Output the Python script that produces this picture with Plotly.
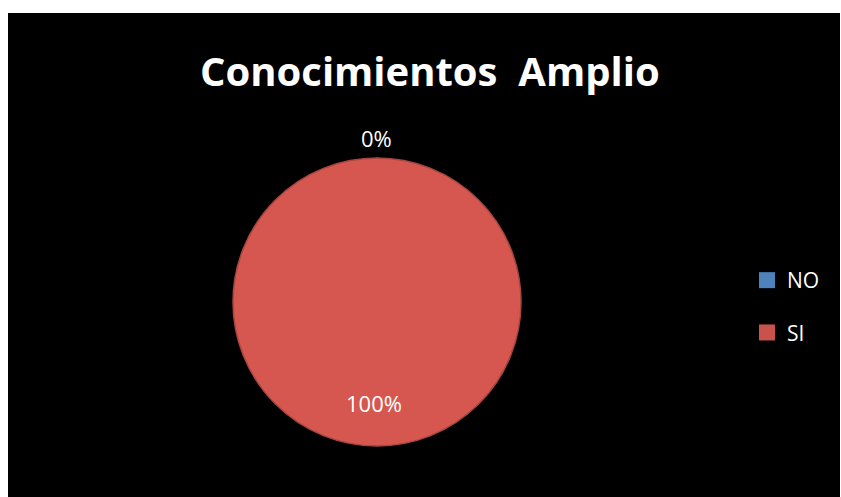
import plotly.graph_objects as go

categories = ["NO", "SI"]
values = [0, 100]
colors = ["#4F81BD", "#D6574F"]
legend_colors = ["#4F81BD", "#C9534C"]
title_text = "Conocimientos  Amplio"

W, H = 841, 497

def px(x):
    return x / W

def py(y):
    return 1 - y / H

total = sum(values)
pct = [f"{v / total:.0%}" for v in values]

fig = go.Figure()

fig.add_trace(go.Pie(
    labels=categories,
    values=values,
    marker=dict(colors=colors, line=dict(color="#A8463F", width=1.5)),
    textinfo="none",
    sort=False,
    direction="clockwise",
    showlegend=False,
    hoverinfo="label+percent",
    domain=dict(x=[px(233), px(521)], y=[py(446), py(158)]),
))

for cat, col in zip(categories, legend_colors):
    fig.add_trace(go.Scatter(
        x=[None], y=[None], mode="markers", name=cat,
        legendgroup=cat,
        marker=dict(symbol="square", size=16, color=col, line=dict(width=0)),
    ))

label_pos = {"NO": (376, 138), "SI": (374, 403)}
for cat, p in zip(categories, pct):
    x, y = label_pos[cat]
    fig.add_annotation(
        x=px(x), y=py(y), xref="paper", yref="paper",
        text=p, showarrow=False,
        font=dict(family="Open Sans", size=22, color="white"),
        xanchor="center", yanchor="middle",
    )

fig.add_annotation(
    x=px(430), y=py(71), xref="paper", yref="paper",
    text=f"<b>{title_text}</b>", showarrow=False,
    font=dict(family="Open Sans", size=40, color="white"),
    xanchor="center", yanchor="middle",
)

fig.add_shape(
    type="rect", xref="paper", yref="paper",
    x0=px(8), x1=px(840), y0=0.0, y1=py(13),
    fillcolor="black", line=dict(width=0), layer="below",
)

fig.update_layout(
    width=W, height=H,
    margin=dict(l=0, r=0, t=0, b=0),
    paper_bgcolor="white",
    plot_bgcolor="rgba(0,0,0,0)",
    xaxis=dict(visible=False),
    yaxis=dict(visible=False),
    legend=dict(
        x=px(747), y=py(260), xanchor="left", yanchor="top",
        font=dict(family="Open Sans", size=21, color="white"),
        bgcolor="rgba(0,0,0,0)",
        tracegroupgap=22,
        itemsizing="trace",
    ),
)

fig.write_html(
    "out.html",
    config={"displayModeBar": False},
    post_script="document.body.style.margin='0';document.body.style.overflow='hidden';",
)
